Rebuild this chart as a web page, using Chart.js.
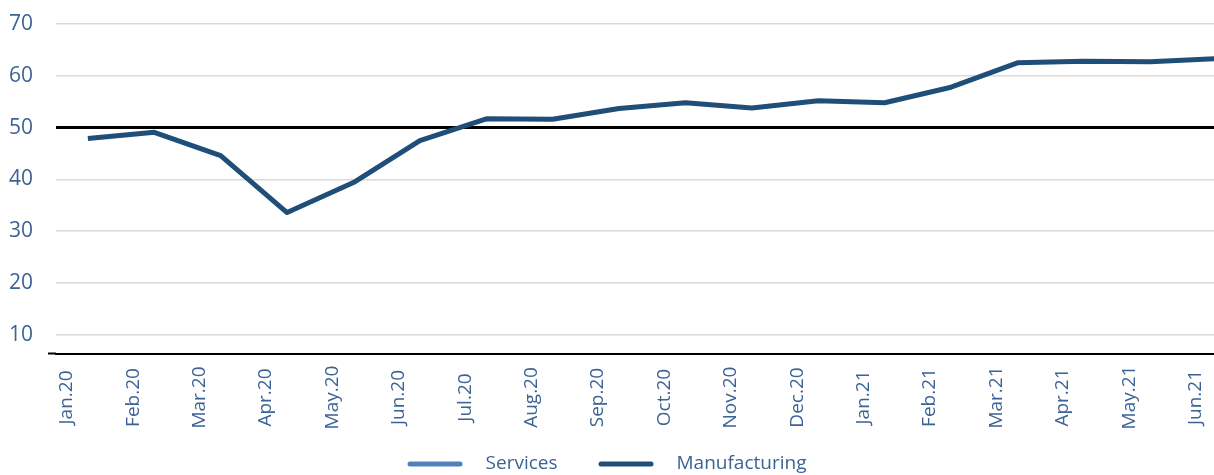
<!DOCTYPE html>
<html>
<head>
<meta charset="utf-8">
<script src="https://cdn.jsdelivr.net/npm/chart.js@4"></script>
<style>
    body { margin: 0; background: #fff; }
    #wrap { width: 1214px; height: 475px; }
</style>
</head>
<body>
<div id="wrap"><canvas id="pmiChart"></canvas></div>
<script>
// months on the x axis
const months = ['Jan.20', 'Feb.20', 'Mar.20', 'Apr.20', 'May.20', 'Jun.20', 'Jul.20', 'Aug.20', 'Sep.20',
    'Oct.20', 'Nov.20', 'Dec.20', 'Jan.21', 'Feb.21', 'Mar.21', 'Apr.21', 'May.21', 'Jun.21'];
// manufacturing index
const manufacturing = [47.9, 49.1, 44.6, 33.6, 39.4, 47.5, 51.7, 51.6, 53.7, 54.8, 53.8, 55.2,
    54.8, 57.8, 62.5, 62.8, 62.7, 63.3];
// services: shown in the legend only, no line drawn
const services = [];
const yTicks = [10, 20, 30, 40, 50, 60, 70];

const textColor = '#3d6396';
const tickFont = '19px "Open Sans"';

// x labels: rotated and centred under each month (chart.js anchors rotated labels at one end)
// plus a small extension of the x axis line to the left, like in the original
const monthLabels = {
    id: 'monthLabels',
    afterDraw(chart) {
        const { ctx, chartArea } = chart;
        const xScale = chart.scales.x;
        ctx.save();
        ctx.strokeStyle = '#000';
        ctx.lineWidth = 2;
        ctx.beginPath();
        ctx.moveTo(chartArea.left - 8, chartArea.bottom);
        ctx.lineTo(chartArea.left, chartArea.bottom);
        ctx.stroke();

        ctx.fillStyle = textColor;
        ctx.font = tickFont;
        ctx.textAlign = 'center';
        ctx.textBaseline = 'middle';
        const midY = chartArea.bottom + 44;
        months.forEach((m, i) => {
            const x = xScale.getPixelForValue(i) - 21;
            ctx.save();
            ctx.translate(x, midY);
            ctx.rotate(-Math.PI / 2);
            ctx.fillText(m, 0, 0);
            ctx.restore();
        });
        ctx.restore();
    }
};

const ctx = document.getElementById('pmiChart').getContext('2d');
new Chart(ctx, {
    type: 'line',
    data: {
        datasets: [{
            label: 'Services',
            data: services.map((v, i) => ({ x: i, y: v })),
            borderColor: '#4f81bd',
            backgroundColor: '#4f81bd',
        }, {
            label: 'Manufacturing',
            data: manufacturing.map((v, i) => ({ x: i, y: v })),
            borderColor: '#1f4e79',
            backgroundColor: '#1f4e79',
            borderWidth: 5,
            borderJoinStyle: 'round',
            pointRadius: 0,
            tension: 0,
        }]
    },
    options: {
        responsive: true,
        maintainAspectRatio: false,
        animation: false,
        layout: { padding: { top: 24, left: 0, right: 0, bottom: -8.5 } },
        plugins: {
            tooltip: { enabled: false },
            legend: {
                position: 'bottom',
                labels: {
                    usePointStyle: true,
                    pointStyleWidth: 68.5,
                    padding: 41,
                    color: textColor,
                    font: { family: 'Open Sans', size: 19 },
                    generateLabels(chart) {
                        return chart.data.datasets.map((ds, i) => ({
                            text: ds.label,
                            datasetIndex: i,
                            pointStyle: 'line',
                            strokeStyle: ds.borderColor,
                            fillStyle: ds.borderColor,
                            lineWidth: 5,
                            lineCap: 'round',
                            lineDash: [50, 1000],
                            lineDashOffset: -2.5,
                            fontColor: textColor,
                        }));
                    }
                }
            }
        },
        scales: {
            x: {
                type: 'linear',
                min: -0.48,
                max: 16.96,
                afterBuildTicks(scale) {
                    scale.ticks = months.map((m, i) => ({ value: i }));
                },
                afterFit(scale) {
                    scale.height = 60;
                },
                grid: { display: false, drawTicks: false },
                border: { display: true, color: '#000', width: 2 },
                ticks: { display: false }
            },
            y: {
                min: 6.4,
                max: 70,
                afterBuildTicks(scale) {
                    scale.ticks = yTicks.map(v => ({ value: v }));
                },
                afterFit(scale) {
                    scale.width = 56;
                },
                grid: {
                    drawTicks: true,
                    tickLength: 23,
                    tickColor: 'rgba(0,0,0,0)',
                    color: (c) => c.tick && c.tick.value === 50 ? '#000' : '#d9d9d9',
                    lineWidth: (c) => c.tick && c.tick.value === 50 ? 3 : 1.5,
                },
                border: { display: false },
                ticks: {
                    padding: 0,
                    color: textColor,
                    font: { family: 'Open Sans', size: 21 },
                }
            }
        }
    },
    plugins: [monthLabels]
});
</script>
</body>
</html>
